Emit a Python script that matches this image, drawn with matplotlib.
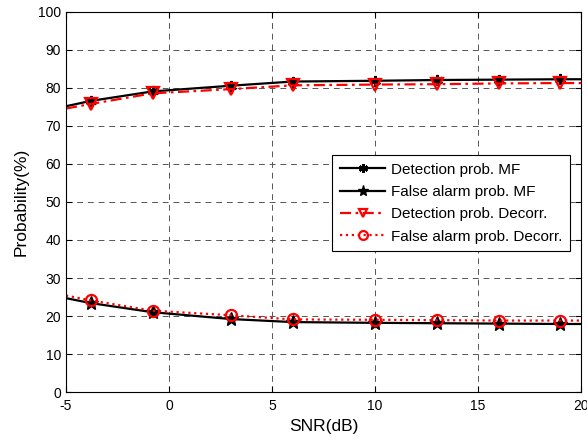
import matplotlib
matplotlib.use("Agg")
import matplotlib.pyplot as plt

plt.rcParams['font.family'] = ['Liberation Sans', 'DejaVu Sans']
plt.rcParams['axes.unicode_minus'] = False

# SNR points (line runs edge to edge, markers on inner points)
snr = [-5, -3.8, -0.8, 3, 6, 10, 13, 16, 19, 20]
det_mf = [75.2, 76.6, 79.1, 80.6, 81.7, 81.9, 82.1, 82.2, 82.3, 82.3]
fa_mf = [24.7, 23.4, 21.0, 19.2, 18.4, 18.2, 18.1, 18.0, 17.9, 17.9]
det_dec = [74.6, 75.8, 78.6, 79.7, 80.7, 80.9, 81.0, 81.2, 81.3, 81.3]
fa_dec = [25.4, 24.1, 21.4, 20.2, 19.1, 19.0, 18.9, 18.8, 18.8, 18.8]

labels = ['Detection prob. MF', 'False alarm prob. MF',
          'Detection prob. Decorr.', 'False alarm prob. Decorr.']

fig = plt.figure(figsize=(5.87, 4.42), dpi=100)
ax = fig.add_axes([66 / 587, 50 / 442, 515 / 587, 380 / 442])

mk = slice(1, -1)
ax.plot(snr, det_mf, color='k', lw=1.6, marker=(6, 2, 0), ms=8, mew=1.6,
        markevery=mk, label=labels[0])
ax.plot(snr, fa_mf, color='k', lw=1.6, marker='*', ms=10,
        markevery=mk, label=labels[1])
ax.plot(snr, det_dec, color='red', lw=1.6, ls=(0, (5, 2, 1.2, 2)), marker='v',
        ms=8, mfc='none', mec='red', mew=1.6, markevery=mk, label=labels[2])
ax.plot(snr, fa_dec, color='red', lw=1.6, ls=':', marker='o', ms=8,
        mfc='none', mec='red', mew=1.6, markevery=mk, label=labels[3])

ax.set_xlim(-5, 20)
ax.set_ylim(0, 100)
ax.set_xticks(range(-5, 21, 5))
ax.set_yticks(range(0, 101, 10))
ax.grid(True, color='#555555', ls=(0, (6, 5)), lw=0.7)
ax.tick_params(direction='in', top=True, right=True, labelsize=10, length=4)
ax.tick_params(axis='x', pad=5)
for s in ax.spines.values():
    s.set_linewidth(0.8)

ax.set_xlabel('SNR(dB)', fontsize=12.5, labelpad=4)
ax.set_ylabel('Probability(%)', fontsize=12.5, labelpad=7)

leg = ax.legend(loc='upper left', bbox_to_anchor=(0.5165, 0.624), fontsize=11,
                fancybox=False, framealpha=1, edgecolor='k',
                handlelength=3.0, borderpad=0.5, labelspacing=0.55,
                handletextpad=0.35, borderaxespad=0, markerscale=0.8)
leg.get_frame().set_linewidth(0.8)

fig.savefig('out.png', dpi=100)
